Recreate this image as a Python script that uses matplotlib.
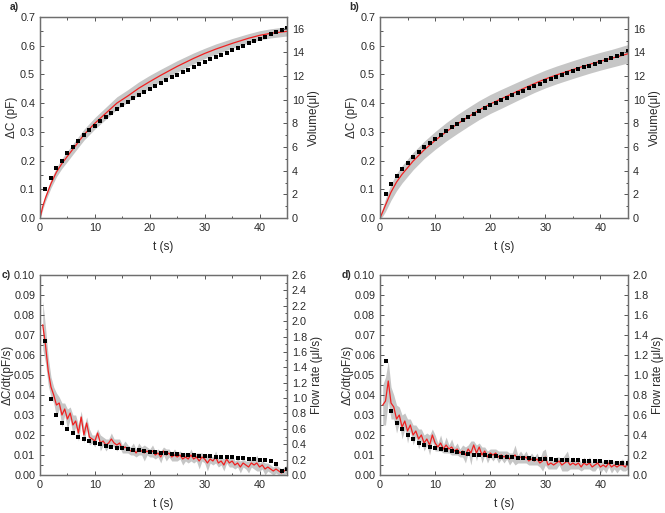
import numpy as np
import matplotlib
matplotlib.use("Agg")
import matplotlib.pyplot as plt
from matplotlib.ticker import MultipleLocator

plt.rcParams['font.family'] = ['Liberation Sans', 'DejaVu Sans']
plt.rcParams['font.size'] = 8
plt.rcParams['text.color'] = '#2a2a2a'
plt.rcParams['axes.labelcolor'] = '#2a2a2a'
plt.rcParams['xtick.color'] = '#555555'
plt.rcParams['ytick.color'] = '#555555'
plt.rcParams['xtick.labelcolor'] = '#2a2a2a'
plt.rcParams['ytick.labelcolor'] = '#2a2a2a'

# ---------------- data ----------------
dot_t = list(range(1, 46))

# panel a
a_dots = [0.100, 0.140, 0.175, 0.200, 0.225, 0.248, 0.268, 0.288, 0.305, 0.322,
          0.338, 0.353, 0.367, 0.380, 0.393, 0.405, 0.417, 0.428, 0.439, 0.450,
          0.460, 0.470, 0.480, 0.490, 0.499, 0.508, 0.517, 0.526, 0.535, 0.544,
          0.552, 0.560, 0.568, 0.576, 0.584, 0.592, 0.600, 0.608, 0.616, 0.624,
          0.632, 0.640, 0.648, 0.656, 0.662]
a_t = [0, 0.5, 1, 2, 3, 4, 5, 6, 8, 10, 12, 14, 16, 18, 20, 22, 25, 28, 30, 32, 35, 38, 40, 42, 45]
a_red = [0.0, 0.04, 0.07, 0.12, 0.16, 0.19, 0.215, 0.24, 0.29, 0.33, 0.365, 0.40, 0.425,
         0.452, 0.475, 0.497, 0.528, 0.556, 0.573, 0.588, 0.608, 0.626, 0.636, 0.643, 0.650]
a_err = [0.005, 0.010, 0.012, 0.015, 0.016, 0.017, 0.018, 0.018, 0.019, 0.020, 0.021, 0.022, 0.022,
         0.022, 0.022, 0.021, 0.020, 0.019, 0.018, 0.018, 0.017, 0.016, 0.016, 0.016, 0.016]

# panel b
b_dots = [0.085, 0.120, 0.148, 0.172, 0.193, 0.212, 0.230, 0.246, 0.262, 0.276,
          0.290, 0.303, 0.316, 0.328, 0.340, 0.351, 0.362, 0.372, 0.382, 0.392,
          0.401, 0.410, 0.419, 0.428, 0.436, 0.444, 0.452, 0.460, 0.468, 0.476,
          0.483, 0.490, 0.497, 0.504, 0.511, 0.518, 0.525, 0.531, 0.538, 0.545,
          0.551, 0.558, 0.565, 0.572, 0.580]
b_t = [0, 0.5, 1, 2, 3, 4, 5, 6, 8, 10, 12, 14, 16, 18, 20, 22, 25, 28, 30, 32, 35, 38, 40, 42, 45]
b_red = [0.0, 0.022, 0.045, 0.090, 0.125, 0.152, 0.175, 0.198, 0.237, 0.270, 0.300, 0.327, 0.352,
         0.376, 0.397, 0.415, 0.442, 0.468, 0.484, 0.498, 0.517, 0.535, 0.546, 0.556, 0.572]
b_err = [0.005, 0.015, 0.022, 0.028, 0.030, 0.030, 0.030, 0.030, 0.030, 0.031, 0.032, 0.033, 0.033,
         0.033, 0.033, 0.033, 0.032, 0.031, 0.031, 0.031, 0.031, 0.031, 0.031, 0.031, 0.032]

# panel c
c_dots = [0.067, 0.038, 0.030, 0.026, 0.023, 0.021, 0.019, 0.018, 0.017, 0.016,
          0.0153, 0.0147, 0.0142, 0.0137, 0.0133, 0.0130, 0.0127, 0.0123, 0.0120, 0.0117,
          0.0114, 0.0111, 0.0109, 0.0106, 0.0104, 0.0102, 0.0100, 0.0098, 0.0097, 0.0095,
          0.0094, 0.0092, 0.0091, 0.0090, 0.0088, 0.0086, 0.0083, 0.0080, 0.0078, 0.0076,
          0.0074, 0.0070, 0.0055, 0.0020, 0.0030]
c_t = [0.5 * i for i in range(1, 91)]
c_red = [0.075, 0.065, 0.052, 0.044, 0.040, 0.035, 0.036, 0.030, 0.033, 0.028,
         0.031, 0.025, 0.027, 0.021, 0.029, 0.020, 0.026, 0.019, 0.018, 0.017,
         0.021, 0.016, 0.017, 0.015, 0.016, 0.018, 0.016, 0.015, 0.016, 0.013,
         0.014, 0.013, 0.012, 0.013, 0.011, 0.013, 0.012, 0.011, 0.012, 0.011,
         0.012, 0.010, 0.011, 0.009, 0.012, 0.010, 0.011, 0.009, 0.010, 0.009,
         0.010, 0.008, 0.009, 0.008, 0.010, 0.008, 0.009, 0.007, 0.009, 0.008,
         0.006, 0.008, 0.007, 0.009, 0.006, 0.007, 0.005, 0.008, 0.006, 0.007,
         0.005, 0.006, 0.004, 0.006, 0.005, 0.004, 0.006, 0.005, 0.006, 0.004,
         0.005, 0.003, 0.004, 0.003, 0.002, 0.003, 0.002, 0.001, 0.002, 0.003]
c_err = [0.012, 0.009, 0.007, 0.005, 0.004, 0.006, 0.003, 0.006, 0.003, 0.005,
         0.003, 0.005, 0.003, 0.004, 0.003, 0.004, 0.003, 0.004, 0.002, 0.003,
         0.002, 0.004, 0.002, 0.003, 0.002, 0.003, 0.002, 0.003, 0.002, 0.002,
         0.003, 0.002, 0.002, 0.003, 0.002, 0.003, 0.002, 0.004, 0.002, 0.002,
         0.003, 0.002, 0.002, 0.003, 0.002, 0.003, 0.002, 0.002, 0.003, 0.002,
         0.002, 0.003, 0.002, 0.002, 0.003, 0.002, 0.002, 0.004, 0.002, 0.002,
         0.004, 0.002, 0.002, 0.003, 0.002, 0.002, 0.003, 0.002, 0.002, 0.003,
         0.002, 0.002, 0.003, 0.002, 0.002, 0.003, 0.002, 0.002, 0.004, 0.002,
         0.002, 0.003, 0.002, 0.002, 0.002, 0.002, 0.002, 0.002, 0.002, 0.002]

# panel d
d_dots = [0.057, 0.032, 0.026, 0.023, 0.020, 0.018, 0.016, 0.015, 0.014, 0.0135,
          0.0130, 0.0125, 0.0120, 0.0115, 0.0110, 0.0105, 0.0100, 0.0100, 0.0098, 0.0095,
          0.0093, 0.0090, 0.0090, 0.0088, 0.0085, 0.0085, 0.0083, 0.0080, 0.0080, 0.0080,
          0.0078, 0.0077, 0.0076, 0.0075, 0.0074, 0.0073, 0.0072, 0.0071, 0.0070, 0.0070,
          0.0065, 0.0063, 0.0062, 0.0061, 0.0060]
d_t = [0.5 * i for i in range(1, 91)]
d_red = [0.035, 0.037, 0.047, 0.036, 0.034, 0.028, 0.030, 0.024, 0.027, 0.022,
         0.025, 0.020, 0.022, 0.018, 0.020, 0.016, 0.018, 0.015, 0.020, 0.016,
         0.014, 0.016, 0.013, 0.015, 0.013, 0.014, 0.012, 0.013, 0.011, 0.012,
         0.010, 0.013, 0.011, 0.015, 0.011, 0.014, 0.010, 0.012, 0.009, 0.011,
         0.010, 0.011, 0.009, 0.010, 0.009, 0.010, 0.008, 0.009, 0.010, 0.008,
         0.009, 0.008, 0.009, 0.007, 0.008, 0.007, 0.008, 0.006, 0.007, 0.009,
         0.005, 0.006, 0.005, 0.006, 0.007, 0.005, 0.006, 0.007, 0.005, 0.006,
         0.005, 0.006, 0.004, 0.006, 0.005, 0.006, 0.004, 0.005, 0.006, 0.004,
         0.005, 0.004, 0.006, 0.004, 0.005, 0.004, 0.005, 0.005, 0.004, 0.006]
d_err = [0.010, 0.012, 0.010, 0.008, 0.006, 0.007, 0.004, 0.006, 0.004, 0.006,
         0.003, 0.005, 0.003, 0.005, 0.003, 0.004, 0.003, 0.005, 0.003, 0.004,
         0.002, 0.004, 0.002, 0.004, 0.002, 0.004, 0.002, 0.003, 0.002, 0.003,
         0.004, 0.002, 0.006, 0.002, 0.004, 0.002, 0.004, 0.002, 0.003, 0.002,
         0.003, 0.002, 0.003, 0.002, 0.003, 0.002, 0.003, 0.002, 0.005, 0.002,
         0.003, 0.002, 0.003, 0.002, 0.003, 0.002, 0.003, 0.002, 0.005, 0.004,
         0.002, 0.003, 0.002, 0.003, 0.002, 0.003, 0.004, 0.005, 0.002, 0.003,
         0.002, 0.003, 0.002, 0.003, 0.002, 0.003, 0.002, 0.003, 0.002, 0.003,
         0.002, 0.003, 0.002, 0.003, 0.002, 0.003, 0.002, 0.003, 0.002, 0.003]

panels = [
    dict(label='a)', t=a_t, red=a_red, err=a_err, dots=a_dots, ylim=(0, 0.7), ymaj=0.1, ymin=0.05,
         yfmt='{:.1f}', ylabel='ΔC (pF)', rlim=(0, 17), rmaj=2, rmin=1, rfmt='{:.0f}', rlabel='Volume(μl)',
         pos=(40, 17, 287, 218), lab=(10, 2), ylx=18),
    dict(label='b)', t=b_t, red=b_red, err=b_err, dots=b_dots, ylim=(0, 0.7), ymaj=0.1, ymin=0.05,
         yfmt='{:.1f}', ylabel='ΔC (pF)', rlim=(0, 17), rmaj=2, rmin=1, rfmt='{:.0f}', rlabel='Volume(μl)',
         pos=(380, 17, 628, 218), lab=(349, 2), ylx=358),
    dict(label='c)', t=c_t, red=c_red, err=c_err, dots=c_dots, ylim=(0, 0.1), ymaj=0.01, ymin=0.005,
         yfmt='{:.2f}', ylabel='ΔC/dt(pF/s)', rlim=(0, 2.6), rmaj=0.2, rmin=0.1, rfmt='{:.1f}', rlabel='Flow rate (μl/s)',
         pos=(40, 275, 287, 475), lab=(2, 270), ylx=14),
    dict(label='d)', t=d_t, red=d_red, err=d_err, dots=d_dots, ylim=(0, 0.1), ymaj=0.01, ymin=0.005,
         yfmt='{:.2f}', ylabel='ΔC/dt(pF/s)', rlim=(0, 2.0), rmaj=0.2, rmin=0.1, rfmt='{:.1f}', rlabel='Flow rate (μl/s)',
         pos=(380, 275, 628, 475), lab=(342, 270), ylx=354),
]

W, H = 665, 513
fig = plt.figure(figsize=(W / 100, H / 100), dpi=100)

spine_c = '#6e6e6e'
for p in panels:
    x0, y0, x1, y1 = p['pos']
    ax = fig.add_axes([x0 / W, 1 - y1 / H, (x1 - x0) / W, (y1 - y0) / H])
    t = np.array(p['t']); r = np.array(p['red']); e = np.array(p['err'])
    ax.fill_between(t, r - e, r + e, color='#c6c6c6', lw=0, zorder=1)
    ax.plot(t, r, color='#f02020', lw=0.9, zorder=3)
    ax.plot(dot_t, p['dots'], ls='none', marker='s', ms=2.3, mew=0, color='black', zorder=4)
    ax.set_xlim(0, 45)
    ax.set_ylim(*p['ylim'])
    ax.xaxis.set_major_locator(MultipleLocator(10))
    ax.xaxis.set_minor_locator(MultipleLocator(5))
    ax.yaxis.set_major_locator(MultipleLocator(p['ymaj']))
    ax.yaxis.set_minor_locator(MultipleLocator(p['ymin']))
    ax.yaxis.set_major_formatter(plt.FuncFormatter(lambda v, _, f=p['yfmt']: f.format(v)))
    ax.tick_params(which='both', direction='in', top=True, right=False, labelsize=7.8, width=0.7)
    ax.tick_params(which='major', length=3, pad=3.5)
    ax.tick_params(which='minor', length=1.8)
    ax.set_xlabel('t (s)', fontsize=8.5, labelpad=6)
    ax.set_ylabel(p['ylabel'], fontsize=8.5)
    ax.yaxis.set_label_coords((p['ylx'] - x0) / (x1 - x0), 0.5)
    for s in ax.spines.values():
        s.set_color(spine_c); s.set_linewidth(0.9)
    ax2 = ax.twinx()
    ax2.set_ylim(*p['rlim'])
    ax2.yaxis.set_major_locator(MultipleLocator(p['rmaj']))
    ax2.yaxis.set_minor_locator(MultipleLocator(p['rmin']))
    ax2.yaxis.set_major_formatter(plt.FuncFormatter(lambda v, _, f=p['rfmt']: f.format(v)))
    ax2.tick_params(which='both', direction='in', labelsize=7.8, width=0.7)
    ax2.tick_params(which='major', length=3, pad=3.5)
    ax2.tick_params(which='minor', length=1.8)
    ax2.set_ylabel(p['rlabel'], fontsize=8.5, labelpad=3)
    for s in ax2.spines.values():
        s.set_color(spine_c); s.set_linewidth(0.9)
    lx, ly = p['lab']
    fig.text(lx / W, 1 - ly / H, p['label'], fontsize=7.5, fontweight='bold', va='top', ha='left')

fig.savefig('out.png', dpi=100)
